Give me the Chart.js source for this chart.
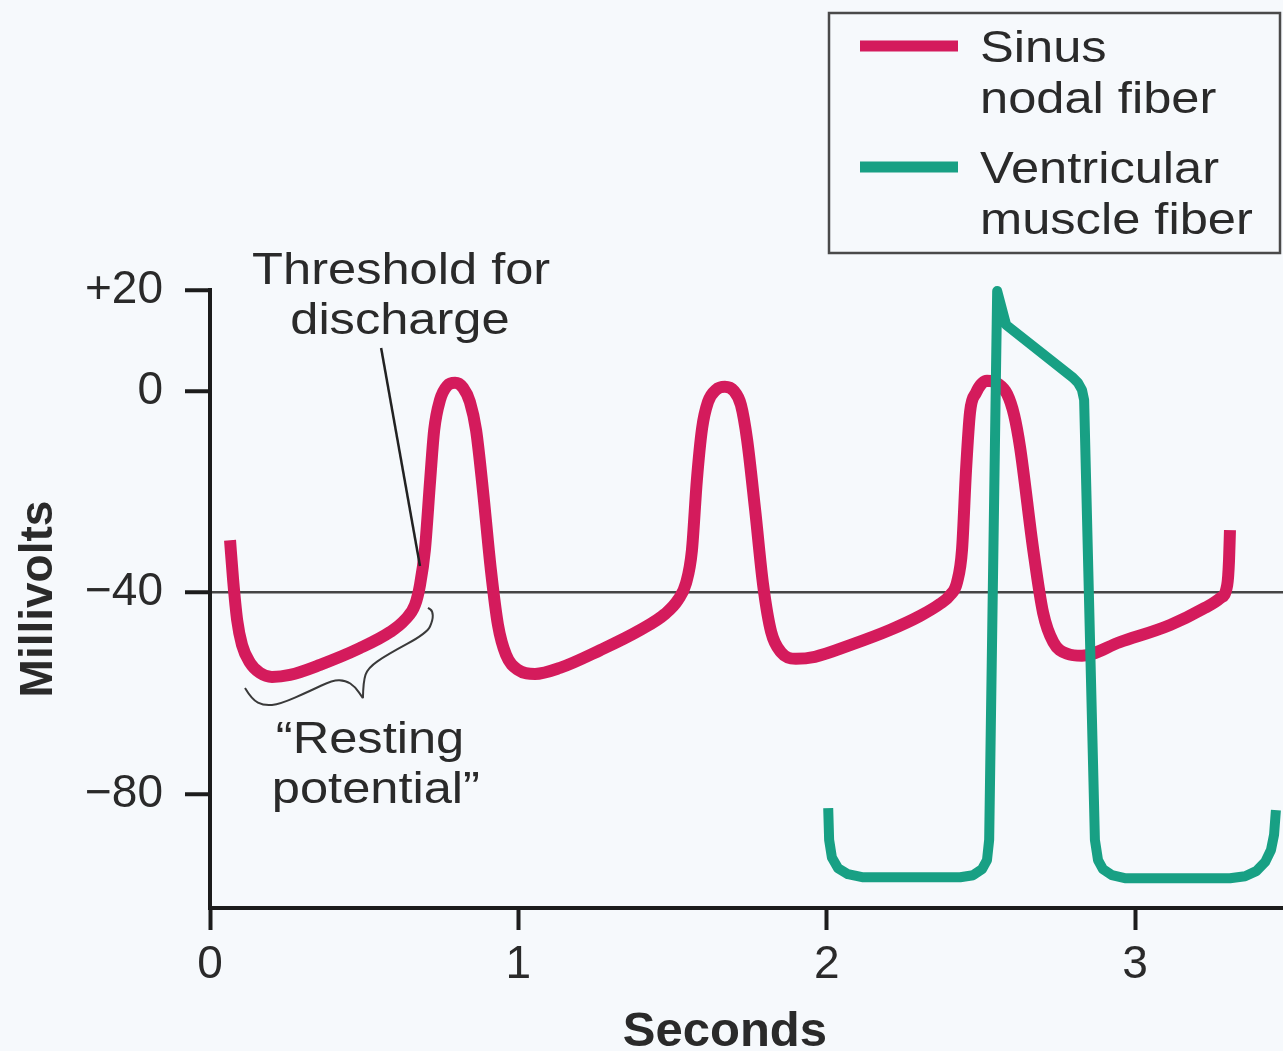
<!DOCTYPE html>
<html>
<head>
<meta charset="utf-8">
<script src="https://cdn.jsdelivr.net/npm/chart.js@4.4.1/dist/chart.umd.min.js"></script>
<style>
  html, body { margin: 0; padding: 0; background: #f6f9fc; }
  canvas { display: block; }
</style>
</head>
<body>
<canvas id="ap-chart" width="1283" height="1051"></canvas>
<script>
// time (s) and membrane potential (mV)
const sinusTimes = [0.065, 0.075, 0.088, 0.104, 0.130, 0.162, 0.201, 0.259, 0.357, 0.486, 0.584, 0.632, 0.665,
    0.681, 0.697, 0.714, 0.727, 0.746, 0.769, 0.795, 0.821, 0.843, 0.863, 0.885, 0.911, 0.934, 0.960, 0.999, 1.054,
    1.135, 1.265, 1.395, 1.476, 1.518,
    1.544, 1.563, 1.579, 1.596, 1.615, 1.641, 1.670, 1.699, 1.722, 1.742, 1.768, 1.794, 1.820, 1.852, 1.900, 1.962,
    2.076, 2.205, 2.303, 2.368, 2.400,
    2.423, 2.439, 2.452, 2.465, 2.484, 2.520, 2.556, 2.585, 2.608, 2.627, 2.670, 2.702, 2.735, 2.780, 2.828,
    2.951, 3.114, 3.227, 3.276, 3.299, 3.305, 3.308];
const sinusMv = [-29.6, -37.5, -45.4, -50.4, -53.9, -55.9, -56.7, -56.3, -54.3, -51.0, -47.8, -45.4, -42.4,
    -38.5, -31.5, -17.7, -7.8, -1.8, 1.0, 1.6, 0.6, -2.2, -7.8, -19.6, -35.5, -46.4, -52.3, -55.3, -56.1,
    -54.9, -51.4, -47.4, -44.2, -41.4,
    -38.1, -31.6, -17.7, -7.4, -2.2, 0.2, 0.8, 0.0, -2.8, -9.7, -23.6, -38.5, -47.8, -51.8, -53.1, -52.7,
    -50.4, -47.4, -44.6, -42.2, -40.5,
    -37.9, -31.5, -15.7, -4.2, -0.4, 2.0, 1.4, -0.6, -4.8, -11.1, -31.5, -44.0, -49.8, -52.1, -52.5,
    -49.8, -46.4, -43.0, -41.1, -38.5, -33.5, -27.6];

const ventTimes = [2.005, 2.008, 2.017, 2.037, 2.069, 2.115, 2.433, 2.475, 2.504, 2.520, 2.527, 2.553, 2.582,
    2.799, 2.815, 2.828, 2.835, 2.870, 2.880, 2.896, 2.925, 2.967, 3.308, 3.357, 3.393, 3.422, 3.441, 3.451, 3.457];
const ventMv = [-82.7, -89.0, -92.5, -94.6, -95.8, -96.4, -96.4, -96.0, -94.8, -93.0, -89.0, 19.8, 13.1,
    2.6, 1.6, 0.2, -1.8, -89.0, -93.0, -94.8, -96.0, -96.6, -96.6, -96.2, -95.2, -93.4, -91.0, -88.0, -83.1];

const seriesNames = [['Sinus', 'nodal fiber'], ['Ventricular', 'muscle fiber']];
const xTickValues = [0, 1, 2, 3];
const yTickValues = [20, 0, -40, -80];
const yTickLabels = ['+20', '0', '\u221240', '\u221280'];
const THRESHOLD_MV = -40;

const SINUS_RED  = '#d41b5c';
const VENT_GREEN = '#18a084';
const AXIS_COLOR = '#1c1c1c';
const GRID_COLOR = '#454545';
const TEXT_COLOR = '#2a2a2a';
const FONT       = '"Liberation Sans", Arial, sans-serif';
const STRETCH    = 1.15; // the source lettering is a bit wider than Arial

const toPoints = (xs, ys) => xs.map((x, i) => ({ x, y: ys[i] }));

function wideText(ctx, text, x, y, align, stretch = STRETCH) {
    ctx.save();
    ctx.translate(x, y);
    ctx.scale(stretch, 1);
    ctx.textAlign = align;
    ctx.textBaseline = 'alphabetic';
    ctx.fillText(text, 0, 0);
    ctx.restore();
}

// smooth open curve through the given pixel points (quadratic midpoints)
function smoothPath(ctx, pts) {
    ctx.moveTo(pts[0][0], pts[0][1]);
    for (let i = 1; i < pts.length - 1; i++) {
        const mx = (pts[i][0] + pts[i + 1][0]) / 2;
        const my = (pts[i][1] + pts[i + 1][1]) / 2;
        ctx.quadraticCurveTo(pts[i][0], pts[i][1], mx, my);
    }
    const last = pts[pts.length - 1];
    ctx.lineTo(last[0], last[1]);
}

// threshold / resting-potential labels, pointer line, brace and x title
const annotationPlugin = {
    id: 'apNotes',
    afterDatasetsDraw(chart) {
        const { ctx, scales: { x, y } } = chart;
        const px = (t, mv) => [x.getPixelForValue(t), y.getPixelForValue(mv)];

        ctx.save();
        ctx.fillStyle = TEXT_COLOR;
        ctx.font = `44px ${FONT}`;
        wideText(ctx, 'Threshold for', ...px(0.620, 21.2), 'center');
        wideText(ctx, 'discharge', ...px(0.616, 11.3), 'center');
        wideText(ctx, '\u201CResting', ...px(0.519, -71.8), 'center');
        wideText(ctx, 'potential\u201D', ...px(0.538, -81.7), 'center');

        ctx.font = `bold 49px ${FONT}`;
        wideText(ctx, 'Seconds', ...px(1.670, -129.8), 'center', 1);

        ctx.strokeStyle = '#222';
        ctx.lineWidth = 2.5;
        ctx.beginPath();
        ctx.moveTo(...px(0.555, 8.5));
        ctx.lineTo(...px(0.681, -34.7));
        ctx.stroke();

        const leftArm = [[0.1135, -58.9], [0.136, -61.2], [0.175, -62.4], [0.227, -62.1], [0.324, -59.5],
            [0.399, -57.3], [0.440, -57.4], [0.470, -58.6], [0.496, -60.9]];
        const rightArm = [[0.496, -60.9], [0.497, -57.6], [0.512, -54.9], [0.574, -52.3], [0.704, -48.0],
            [0.723, -45.4], [0.722, -43.6], [0.707, -43.0]];
        ctx.strokeStyle = '#3a3a3a';
        ctx.lineWidth = 2;
        ctx.lineJoin = 'round';
        ctx.beginPath();
        smoothPath(ctx, leftArm.map(p => px(...p)));
        smoothPath(ctx, rightArm.map(p => px(...p)));
        ctx.stroke();
        ctx.restore();
    },
};

// boxed legend in the top right corner
const legendBoxPlugin = {
    id: 'apLegend',
    afterDraw(chart) {
        const { ctx } = chart;
        const colors = [SINUS_RED, VENT_GREEN];
        const rows = [46, 167];

        ctx.save();
        ctx.strokeStyle = '#4a4a4a';
        ctx.lineWidth = 2.5;
        ctx.strokeRect(829, 13, 451, 240);

        ctx.font = `44px ${FONT}`;
        ctx.fillStyle = TEXT_COLOR;
        seriesNames.forEach((lines, i) => {
            ctx.strokeStyle = colors[i];
            ctx.lineWidth = 11;
            ctx.beginPath();
            ctx.moveTo(860, rows[i]);
            ctx.lineTo(958, rows[i]);
            ctx.stroke();
            lines.forEach((line, j) => wideText(ctx, line, 980, rows[i] + 16 + j * 51, 'left'));
        });
        ctx.restore();
    },
};

new Chart(document.getElementById('ap-chart'), {
    type: 'line',
    data: {
        datasets: [
            {
                label: seriesNames[0].join(' '),
                data: toPoints(sinusTimes, sinusMv),
                borderColor: SINUS_RED,
                borderWidth: 12,
                cubicInterpolationMode: 'monotone',
                order: 1,
            },
            {
                label: seriesNames[1].join(' '),
                data: toPoints(ventTimes, ventMv),
                borderColor: VENT_GREEN,
                borderWidth: 10,
                tension: 0,
                order: 0,
            },
        ],
    },
    options: {
        responsive: false,
        animation: false,
        devicePixelRatio: 1,
        layout: { padding: { top: 290, left: 0, right: 0, bottom: 0 } },
        plugins: { legend: { display: false }, tooltip: { enabled: false } },
        elements: {
            point: { radius: 0 },
            line: { borderJoinStyle: 'round', fill: false },
        },
        datasets: { line: { clip: false } },
        scales: {
            x: {
                type: 'linear',
                min: 0,
                max: 3.48,
                afterBuildTicks: s => { s.ticks = xTickValues.map(v => ({ value: v })); },
                afterFit: s => { s.height = 143; },
                grid: { drawOnChartArea: false, tickLength: 22, tickWidth: 4, tickColor: AXIS_COLOR },
                border: { color: AXIS_COLOR, width: 4 },
                ticks: { color: TEXT_COLOR, font: { family: FONT, size: 46 }, padding: 8, maxRotation: 0, autoSkip: false },
            },
            y: {
                type: 'linear',
                min: -102.5,
                max: 20,
                afterBuildTicks: s => { s.ticks = yTickValues.map(v => ({ value: v })); },
                afterFit: s => { s.width = 210; },
                grid: {
                    color: c => (c.tick && c.tick.value === THRESHOLD_MV ? GRID_COLOR : 'transparent'),
                    lineWidth: 2.5,
                    tickLength: 25,
                    tickWidth: 4,
                    tickColor: AXIS_COLOR,
                },
                border: { color: AXIS_COLOR, width: 4 },
                ticks: {
                    color: TEXT_COLOR,
                    font: { family: FONT, size: 46 },
                    padding: 22,
                    callback: v => yTickLabels[yTickValues.indexOf(v)],
                },
                title: {
                    display: true,
                    text: 'Millivolts',
                    color: TEXT_COLOR,
                    font: { family: FONT, size: 46, weight: 'bold' },
                    padding: { top: 12, bottom: 0 },
                },
            },
        },
    },
    plugins: [annotationPlugin, legendBoxPlugin],
});
</script>
</body>
</html>
